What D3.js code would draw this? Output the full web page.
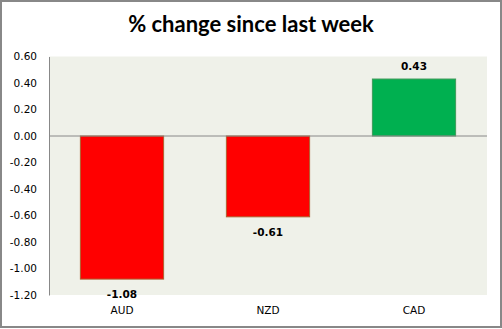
<!DOCTYPE html>
<html><head><meta charset="utf-8">
<script src="https://cdn.jsdelivr.net/npm/d3@7"></script>
<style>body{margin:0;background:#fff}svg{display:block}</style>
</head><body><svg id="c" width="502" height="329"></svg>
<script>
const categories = ["AUD", "NZD", "CAD"];
const values = [-1.08, -0.61, 0.43];
const tickValues = [0.6, 0.4, 0.2, 0, -0.2, -0.4, -0.6, -0.8, -1.0, -1.2];
const title = "% change since last week";

const fmt = d => d3.format(".2f")(d).replace("\u2212", "-");

const svg = d3.select("#c");
const W = 502, H = 329;
svg.append("rect").attr("x", 1).attr("y", 1).attr("width", W - 2).attr("height", H - 3)
  .attr("fill", "#fff").attr("stroke", "#888").attr("stroke-width", 2);

const m = {left: 49, right: 15, top: 56.5, bottom: 34};
const x = d3.scaleBand().domain(categories).range([m.left, W - m.right]).paddingInner(0.43).paddingOuter(0.215);
const y = d3.scaleLinear().domain([-1.2, 0.6]).range([H - m.bottom, m.top]);

svg.append("rect").attr("x", m.left).attr("y", y(0.6)).attr("width", W - m.right - m.left)
  .attr("height", y(-1.2) - y(0.6)).attr("fill", "#EFF1E9");

svg.append("text").attr("x", 251).attr("y", 32).attr("text-anchor", "middle")
  .attr("font-family", "Lato, sans-serif").attr("font-weight", "bold").attr("font-size", 22)
  .attr("fill", "#000").text(title);

const ya = d3.axisLeft(y).tickValues(tickValues).tickSize(0).tickPadding(12).tickFormat(fmt);
const g = svg.append("g").attr("transform", `translate(${m.left},0)`).call(ya);
g.select(".domain").attr("stroke", "#888");
g.selectAll("text").attr("font-family", "DejaVu Sans, sans-serif").attr("font-size", 10.5).attr("fill", "#000");

svg.selectAll(".bar").data(values).enter().append("rect")
  .attr("x", (d, i) => x(categories[i]))
  .attr("y", d => y(Math.max(0, d)))
  .attr("width", x.bandwidth())
  .attr("height", d => Math.abs(y(d) - y(0)))
  .attr("fill", d => d < 0 ? "#FF0000" : "#00B050")
  .attr("stroke", d => d < 0 ? "#B0602E" : "#3F9A5A").attr("stroke-width", 1);

svg.append("line").attr("x1", m.left).attr("x2", W - m.right).attr("y1", y(0)).attr("y2", y(0))
  .attr("stroke", "#888").attr("stroke-width", 1);

svg.selectAll(".lbl").data(values).enter().append("text")
  .attr("x", (d, i) => x(categories[i]) + x.bandwidth() / 2)
  .attr("y", d => d < 0 ? y(d) + 19 : y(d) - 9)
  .attr("text-anchor", "middle").attr("font-family", "DejaVu Sans, sans-serif")
  .attr("font-weight", "bold").attr("font-size", 10.5).attr("fill", "#000")
  .text(fmt);

const xa = d3.axisBottom(x).tickSize(0).tickPadding(12);
const gx = svg.append("g").attr("transform", `translate(0,${y(-1.2)})`).call(xa);
gx.select(".domain").remove();
gx.selectAll("text").attr("font-family", "DejaVu Sans, sans-serif").attr("font-size", 10.5).attr("fill", "#000");
</script></body></html>
